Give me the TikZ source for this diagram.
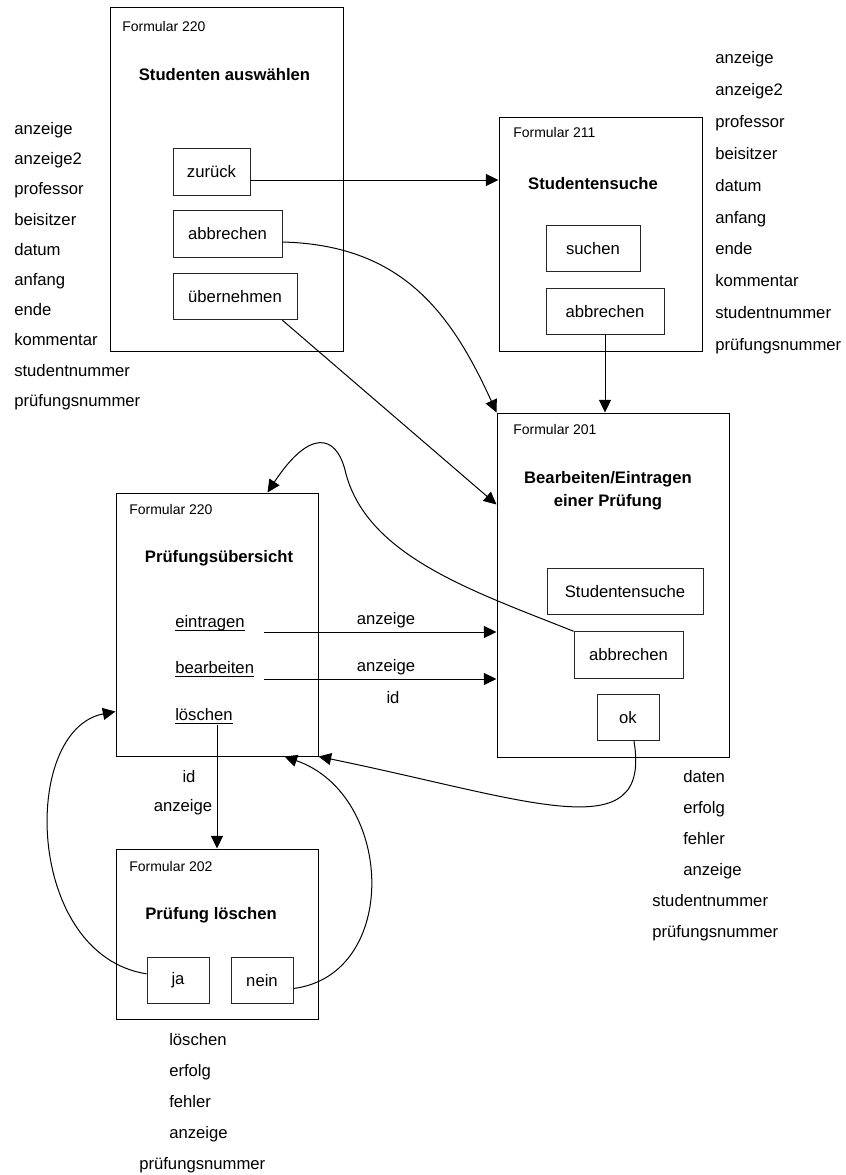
\documentclass[tikz,border=0pt]{standalone}
\usepackage{fontspec}
\setmainfont{Liberation Sans}
\usetikzlibrary{arrows.meta, calc}

\newsavebox{\ulbox}
\newcommand{\ulword}[1]{\sbox{\ulbox}{#1}\rlap{\rule[-3.25pt]{\wd\ulbox}{0.9pt}}\usebox{\ulbox}}

\begin{document}
\begin{tikzpicture}[x=0.75pt, y=-0.75pt, font=\fontsize{12.5}{15}\selectfont,
  form/.style 2 args={draw, line width=0.75pt, minimum width=#1*0.75pt, minimum height=#2*0.75pt, inner sep=0pt},
  btn/.style={draw=black!85, line width=0.6pt, minimum width=#1*0.75pt, minimum height=35pt, inner sep=0pt},
  fnum/.style={anchor=base west, inner sep=0pt, font=\fontsize{10.5}{12}\selectfont},
  ttl/.style={anchor=base, inner sep=0pt, font=\fontsize{12.5}{15}\selectfont\bfseries},
  lbl/.style={anchor=base west, inner sep=0pt},
  elbl/.style={anchor=base, inner sep=0pt},
  pfeil/.style={-{Triangle[length=9.5pt,width=9pt]}, line width=0.75pt}]

  \useasboundingbox (0,0) rectangle (846,1175);

  % Forms
  \node[form={233}{344}] (sauswahl) at (226.5,179) {};
  \node[form={203}{234}] (ssuche) at (600.5,234) {};
  \node[form={232}{344}] (pbearb) at (613,585) {};
  \node[form={202}{263}] (puebers) at (217,624.5) {};
  \node[form={202}{170}] (ploesch) at (217,934) {};

  % Form headers
  \node[fnum] (fn-sa) at (122,31) {Formular 220};
  \node[ttl] (t-sa) at (224.5,80) {Studenten auswählen};
  \node[fnum] (fn-ss) at (513,137) {Formular 211};
  \node[ttl] (t-ss) at (593,189) {Studentensuche};
  \node[fnum] (fn-pb) at (513,434) {Formular 201};
  \node[ttl, anchor=center, align=center, font=\fontsize{12.5}{17.25}\selectfont\bfseries] (t-pb) at (608,491) {Bearbeiten/Eintragen\\einer Prüfung};
  \node[fnum] (fn-pu) at (129,514) {Formular 220};
  \node[ttl] (t-pu) at (219,562.5) {Prüfungsübersicht};
  \node[fnum] (fn-pl) at (129,871) {Formular 202};
  \node[ttl] (t-pl) at (211,919.5) {Prüfung löschen};

  % Buttons
  \node[btn=77] (zurueck) at (211.5,172) {zurück};
  \node[btn=109] (abbrA) at (227.5,234) {abbrechen};
  \node[btn=124] (uebern) at (235,296.5) {übernehmen};
  \node[btn=94] (suchen) at (593,248.5) {suchen};
  \node[btn=118] (abbrB) at (605,311.5) {abbrechen};
  \node[btn=156] (stsuche) at (625,591.5) {Studentensuche};
  \node[btn=109] (abbrC) at (628.5,655) {abbrechen};
  \node[btn=62] (ok) at (628,717.5) {ok};
  \node[btn=62] (ja) at (178,980.5) {ja};
  \node[btn=62] (nein) at (262,980.5) {nein};

  % Links
  \node[lbl] (e-ein) at (175,627) {\ulword{eintragen}};
  \node[lbl] (e-bea) at (175,673) {\ulword{bearbeiten}};
  \node[lbl] (e-loe) at (175,720) {\ulword{löschen}};

  % Parameter lists
  \foreach \w [count=\i from 0] in {anzeige, anzeige2, professor, beisitzer, datum, anfang, ende, kommentar, studentnummer, prüfungsnummer}{
    \node[lbl] (pl-\i) at (14,{134.5+30.2*\i}) {\w};
    \node[lbl] (pr-\i) at (715,{63.5+31.9*\i}) {\w};
  }
  \foreach \x/\w [count=\i from 0] in {683/daten, 683/erfolg, 683/fehler, 683/anzeige, 652/studentnummer, 652/prüfungsnummer}
    \node[lbl] (pb-\i) at (\x,{782+31*\i}) {\w};
  \foreach \x/\w [count=\i from 0] in {169/löschen, 169/erfolg, 169/fehler, 169/anzeige, 139/prüfungsnummer}
    \node[lbl] (pd-\i) at (\x,{1045+31.2*\i}) {\w};

  % Edge labels
  \node[elbl] (a-ein) at (386,624.5) {anzeige};
  \node[elbl] (a-bea) at (386,671.5) {anzeige};
  \node[elbl] (i-bea) at (393,703) {id};
  \node[elbl] (i-loe) at (189,782) {id};
  \node[elbl] (a-loe) at (183,811) {anzeige};

  % Connectors
  \coordinate (ein-out) at (264,632);
  \coordinate (bea-out) at (264,679);
  \draw[pfeil] ([yshift=-6pt]zurueck.east) -- ([yshift=-6pt]zurueck.east -| ssuche.west);
  \draw[pfeil] ([yshift=-6pt]abbrA.east) .. controls (400,245) and (450,310) .. (pbearb.north west);
  \draw[pfeil] ($(uebern.south east)+(-15,0)$) -- ($(pbearb.north west)+(0,92)$);
  \draw[pfeil] (abbrB.south) -- (abbrB.south |- pbearb.north);
  \draw[pfeil] (abbrC.north west) .. controls (470,590) and (365,555) .. (345,470)
    .. controls (336,435) and (310,428) .. ($(puebers.north east)+(-51,0)$);
  \draw[pfeil] (ein-out) -- (ein-out -| pbearb.west);
  \draw[pfeil] (bea-out) -- (bea-out -| pbearb.west);
  \draw[pfeil] (e-loe.south -| ploesch.north) -- (ploesch.north);
  \draw[pfeil] ($(ok.south)+(6,0)$) .. controls (652,850) and (530,800) .. (puebers.south east);
  \draw[pfeil] ([yshift=5pt]ja.west) .. controls (25,955) and (20,730) .. ($(puebers.north west)+(0,219)$);
  \draw[pfeil] ([yshift=-6pt]nein.east) .. controls (400,975) and (395,795) .. ($(puebers.south east)+(-34,0)$);

\end{tikzpicture}
\end{document}
